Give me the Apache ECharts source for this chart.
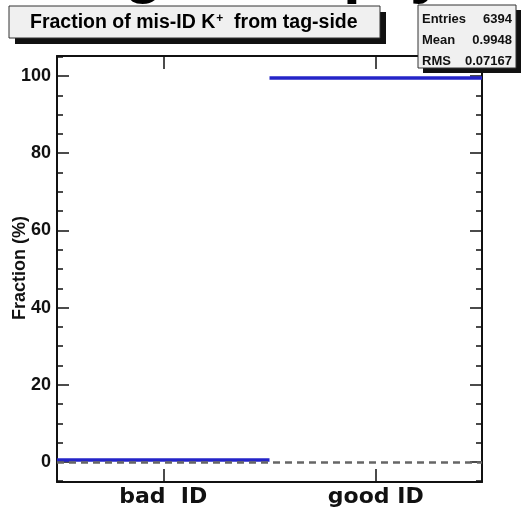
<!DOCTYPE html>
<html>
<head>
<meta charset="utf-8">
<script src="https://cdn.jsdelivr.net/npm/echarts@6/dist/echarts.min.js"></script>
<style>
  html, body { margin: 0; padding: 0; background: #fff; }
  #chart { width: 525px; height: 512px; }
</style>
</head>
<body>
<div id="chart"></div>
<script>
// histogram data
const categories = ['bad  ID', 'good ID'];
const fractions = [0.52, 99.48];
const yMajorTicks = [0, 20, 40, 60, 80, 100];
const yMinorTicks = [-5, 5, 10, 15, 25, 30, 35, 45, 50, 55, 65, 70, 75, 85, 90, 95, 105];
const statNames = ['Entries', 'Mean', 'RMS'];
const statValues = ['6394', '0.9948', '0.07167'];

const chart = echarts.init(document.getElementById('chart'));

const frame = { show: true, onZero: false, lineStyle: { color: '#111', width: 2 } };
const font = 'Liberation Sans';

function yAxisDef(pos, ticks, len, line, labels) {
  return {
    type: 'value', position: pos, min: -5.2, max: 105.2,
    axisLine: line ? frame : { show: false },
    axisTick: { show: true, inside: true, length: len, customValues: ticks, lineStyle: { color: '#111', width: 1.5 } },
    axisLabel: labels ? { show: true, customValues: ticks, margin: 6, fontFamily: font, fontWeight: 'bold', fontSize: 18, color: '#111' } : { show: false },
    splitLine: { show: false }
  };
}

const yAxes = [
  yAxisDef('left', yMajorTicks, 12, true, true),
  yAxisDef('left', yMinorTicks, 6, false, false),
  yAxisDef('right', yMajorTicks, 12, true, false),
  yAxisDef('right', yMinorTicks, 6, false, false)
];

function xAxisDef(pos, labels) {
  return {
    type: 'category', position: pos, data: categories, boundaryGap: true,
    axisLine: frame,
    axisTick: { show: true, inside: true, alignWithLabel: true, length: 13, lineStyle: { color: '#111', width: 1.5 } },
    axisLabel: labels ? { show: true, margin: 4, fontFamily: 'DejaVu Sans', fontWeight: 'bold', fontSize: 22, color: '#111' } : { show: false },
    splitLine: { show: false }
  };
}

function box(x, y, w, h, sx, sy) {
  return [
    { type: 'rect', shape: { x: x + sx, y: y + sy, width: w, height: h }, style: { fill: '#111' }, z: 100 },
    { type: 'rect', shape: { x: x, y: y, width: w, height: h }, style: { fill: '#f0f0f0', stroke: '#333', lineWidth: 1 }, z: 101 }
  ];
}

const graphics = [
  // cut-off slide heading behind the boxes
  { type: 'text', x: 124, y: 5, style: { text: 'g', font: 'bold 64px "Liberation Sans"', fill: '#000', verticalAlign: 'bottom' }, z: 90 },
  { type: 'text', x: 343, y: 5, style: { text: 'p', font: 'bold 64px "Liberation Sans"', fill: '#000', verticalAlign: 'bottom' }, z: 90 },
  { type: 'text', x: 410, y: 5, style: { text: 'y', font: 'bold 64px "Liberation Sans"', fill: '#000', verticalAlign: 'bottom' }, z: 90 },
  // y axis title
  { type: 'text', x: 20, y: 268, rotation: Math.PI / 2, style: { text: 'Fraction (%)', font: 'bold 18px "Liberation Sans"', fill: '#111', align: 'center', verticalAlign: 'middle' }, z: 50 }
]
  .concat(box(9, 6, 371, 32, 6, 6))
  .concat(box(418, 5, 98, 63, 5, 5));

graphics.push({
  type: 'text', x: 30, y: 23, z: 102,
  style: {
    text: '{a|Fraction of mis-ID K}{s|+}{a|  from tag-side}',
    verticalAlign: 'middle',
    rich: {
      a: { fontFamily: font, fontWeight: 'bold', fontSize: 19.5, color: '#111' },
      s: { fontFamily: font, fontWeight: 'bold', fontSize: 12, color: '#111', verticalAlign: 'top', padding: [0, 0, 8, 1] }
    }
  }
});

statNames.forEach((n, i) => {
  const y = 19 + i * 21;
  graphics.push({ type: 'text', x: 422, y: y, z: 102, style: { text: n, font: 'bold 13px "Liberation Sans"', fill: '#111', verticalAlign: 'middle' } });
  graphics.push({ type: 'text', x: 512, y: y, z: 102, style: { text: statValues[i], font: 'bold 13px "Liberation Sans"', fill: '#111', verticalAlign: 'middle', align: 'right' } });
});

const option = {
  animation: false,
  backgroundColor: '#fff',
  grid: { left: 57, right: 43, top: 56, bottom: 30, containLabel: false, outerBoundsMode: 'none' },
  xAxis: [xAxisDef('bottom', true), xAxisDef('top', false)],
  yAxis: yAxes,
  series: [
    {
      type: 'custom',
      xAxisIndex: 0, yAxisIndex: 0,
      data: fractions.map((v, i) => [i, v]),
      encode: { x: 0, y: 1 },
      renderItem: function (params, api) {
        const c = api.coord([api.value(0), api.value(1)]);
        const w = api.size([1, 0])[0];
        return {
          type: 'line',
          shape: { x1: c[0] - w / 2, y1: c[1], x2: c[0] + w / 2, y2: c[1] },
          style: { stroke: '#2424c8', lineWidth: 3.5 }
        };
      },
      z: 2
    },
    {
      type: 'line',
      xAxisIndex: 0, yAxisIndex: 0,
      data: [],
      z: 3,
      markLine: {
        silent: true, symbol: 'none', label: { show: false },
        lineStyle: { color: '#666', type: [7, 5], width: 2.5 },
        data: [{ yAxis: 0 }]
      }
    }
  ],
  graphic: graphics
};

chart.setOption(option);
</script>
</body>
</html>
